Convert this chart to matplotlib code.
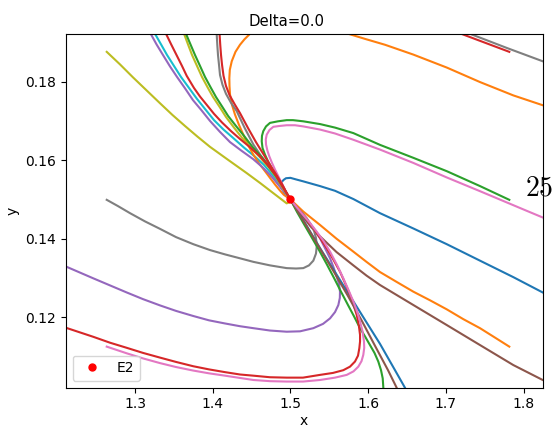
import matplotlib
matplotlib.use("Agg")
import matplotlib.pyplot as plt

# ---- equilibrium point ----
e2_x = [1.5]
e2_y = [0.15]

# ---- trajectories ----
blue_loop_x = [1.8405, 1.8247, 1.7869, 1.744, 1.7012, 1.6582, 1.6153, 1.581, 1.5574, 1.5381, 1.5166, 1.5072, 1.5, 1.4943, 1.4914, 1.4885, 1.4884, 1.4888, 1.4914, 1.4931, 1.4952, 1.5]
blue_loop_y = [0.1246, 0.1263, 0.1302, 0.1344, 0.1386, 0.1426, 0.1465, 0.1501, 0.1522, 0.1534, 0.1546, 0.1551, 0.1555, 0.1554, 0.1550, 0.1544, 0.1538, 0.1529, 0.1521, 0.1514, 0.1508, 0.15]

orange_low_x = [1.7817, 1.7633, 1.744, 1.7225, 1.7012, 1.6797, 1.6582, 1.6366, 1.6153, 1.5979, 1.581, 1.5593, 1.5381, 1.5166, 1.5]
orange_low_y = [0.1125, 0.1148, 0.1172, 0.1195, 0.1220, 0.1243, 0.1265, 0.1290, 0.1315, 0.1341, 0.1367, 0.1400, 0.1435, 0.1469, 0.15]

green_loop_x = [1.7817, 1.744, 1.7012, 1.6582, 1.6153, 1.581, 1.5574, 1.5381, 1.5166, 1.5033, 1.4952, 1.4840, 1.4737, 1.4686, 1.4651, 1.4634, 1.4631, 1.4641, 1.4673, 1.4712, 1.4759, 1.4802, 1.4844, 1.4885, 1.4931, 1.5]
green_loop_y = [0.1499, 0.1534, 0.1572, 0.1606, 0.1639, 0.1669, 0.1683, 0.1692, 0.1699, 0.1702, 0.1702, 0.1699, 0.1695, 0.1686, 0.1674, 0.1662, 0.1648, 0.1631, 0.1614, 0.1597, 0.1580, 0.1562, 0.1546, 0.1530, 0.1516, 0.15]

red_short_x = [1.7817, 1.7225, 1.7054]
red_short_y = [0.1876, 0.1920, 0.1934]

purple_low_x = [1.1906, 1.2112, 1.2463, 1.2678, 1.2893, 1.3103, 1.3322, 1.3528, 1.375, 1.3952, 1.4158, 1.4351, 1.4523, 1.4737, 1.4952, 1.5124, 1.5295, 1.5420, 1.551, 1.5574, 1.5617, 1.5636, 1.5638, 1.5625, 1.5596, 1.5555, 1.551, 1.5445, 1.5381, 1.5297, 1.521, 1.5156, 1.5102, 1.5046, 1.5]
purple_low_y = [0.1346, 0.1329, 0.1299, 0.1281, 0.1263, 0.1246, 0.1230, 0.1216, 0.1203, 0.1192, 0.1184, 0.1177, 0.1172, 0.1166, 0.1163, 0.1164, 0.1172, 0.1183, 0.1197, 0.1213, 0.1231, 0.1249, 0.1265, 0.1285, 0.1303, 0.1327, 0.1350, 0.1376, 0.1401, 0.1425, 0.1448, 0.1462, 0.1473, 0.1486, 0.15]

brown_right_x = [1.8405, 1.8247, 1.7869, 1.744, 1.7012, 1.6582, 1.6153, 1.5979, 1.581, 1.5593, 1.5381, 1.5265, 1.5166, 1.5072, 1.5]
brown_right_y = [0.1027, 0.1040, 0.1078, 0.1129, 0.1180, 0.1231, 0.1282, 0.1306, 0.1332, 0.1366, 0.1406, 0.1430, 0.1455, 0.1478, 0.15]

pink_loop_x = [1.8405, 1.8247, 1.8041, 1.744, 1.7012, 1.6582, 1.6153, 1.581, 1.5574, 1.5381, 1.5166, 1.5059, 1.4952, 1.4853, 1.478, 1.4731, 1.4695, 1.4683, 1.4686, 1.4703, 1.4728, 1.4763, 1.4802, 1.4847, 1.4888, 1.4924, 1.4952, 1.5]
pink_loop_y = [0.1443, 0.1454, 0.1471, 0.1521, 0.1556, 0.1593, 0.1627, 0.1652, 0.1668, 0.1678, 0.1686, 0.1689, 0.1689, 0.1687, 0.1685, 0.1677, 0.1665, 0.1653, 0.1640, 0.1625, 0.1610, 0.1593, 0.1576, 0.1558, 0.1542, 0.1527, 0.1512, 0.15]

gray_mid_x = [1.2636, 1.2781, 1.2936, 1.3129, 1.3322, 1.3528, 1.375, 1.3965, 1.4158, 1.4351, 1.4523, 1.4737, 1.4952, 1.5072, 1.5166, 1.5239, 1.5295, 1.5329, 1.5340, 1.5329, 1.5304, 1.5263, 1.521, 1.5149, 1.5081, 1.5]
gray_mid_y = [0.1499, 0.1483, 0.1465, 0.1444, 0.1425, 0.1404, 0.1386, 0.1371, 0.1360, 0.1350, 0.1341, 0.1332, 0.1325, 0.1324, 0.1325, 0.1332, 0.1344, 0.1362, 0.1383, 0.1402, 0.1420, 0.1436, 0.1452, 0.1466, 0.1479, 0.15]

olive_start_x = [1.2636, 1.2807, 1.2974, 1.3148, 1.3322, 1.3483, 1.3644, 1.3804, 1.3965, 1.4197, 1.4438, 1.4609, 1.4780, 1.4879, 1.4952, 1.4988, 1.5]
olive_start_y = [0.1876, 0.1844, 0.1811, 0.1778, 0.1745, 0.1715, 0.1687, 0.1660, 0.1634, 0.1601, 0.1567, 0.1542, 0.1516, 0.1501, 0.1490, 0.1493, 0.15]

cyan_top_x = [1.3129, 1.3257, 1.3335, 1.3412, 1.3502, 1.3592, 1.3695, 1.3798, 1.3907, 1.4017, 1.4139, 1.4261, 1.4403, 1.4544, 1.4660, 1.4776, 1.4885, 1.5]
cyan_top_y = [0.1970, 0.1922, 0.1895, 0.1868, 0.1840, 0.1812, 0.1784, 0.1756, 0.1729, 0.1702, 0.1678, 0.1657, 0.1632, 0.1609, 0.1588, 0.1561, 0.1532, 0.15]

blue_bottom_x = [1.6514, 1.6475, 1.6346, 1.6153, 1.5960, 1.5767, 1.5574, 1.5381, 1.5188, 1.5]
blue_bottom_y = [0.1002, 0.1020, 0.1065, 0.1132, 0.1193, 0.1254, 0.1315, 0.1376, 0.1440, 0.15]

orange_top_x = [1.4634, 1.4480, 1.4409, 1.4351, 1.4293, 1.4245, 1.4220, 1.4214, 1.4216, 1.4223, 1.4248, 1.4287, 1.4338, 1.4394, 1.4454, 1.4523, 1.4596, 1.4673, 1.4737, 1.4802, 1.4860, 1.4914, 1.5]
orange_top_y = [0.1952, 0.1922, 0.1908, 0.1894, 0.1876, 0.1852, 0.1830, 0.1809, 0.1789, 0.1767, 0.1741, 0.1716, 0.1690, 0.1665, 0.1639, 0.1614, 0.1592, 0.1572, 0.1555, 0.1538, 0.1524, 0.1512, 0.15]

orange_far_x = [1.5510, 1.5745, 1.5960, 1.6218, 1.6582, 1.7012, 1.7440, 1.7869, 1.8247, 1.8405]
orange_far_y = [0.1934, 0.1922, 0.1909, 0.1894, 0.1869, 0.1836, 0.1799, 0.1765, 0.1740, 0.1730]

green_bottom_x = [1.6198, 1.6196, 1.6188, 1.6166, 1.6131, 1.6082, 1.6024, 1.5960, 1.5896, 1.5819, 1.5741, 1.5651, 1.5561, 1.5465, 1.5368, 1.5272, 1.5175, 1.5085, 1.5]
green_bottom_y = [0.1002, 0.1020, 0.1044, 0.1065, 0.1087, 0.1109, 0.1129, 0.1151, 0.1172, 0.1202, 0.1231, 0.1265, 0.1300, 0.1336, 0.1371, 0.1404, 0.1437, 0.1468, 0.15]

red_low_x = [1.1906, 1.2112, 1.2463, 1.2678, 1.2893, 1.3103, 1.3322, 1.3528, 1.375, 1.3952, 1.4158, 1.4351, 1.4523, 1.4737, 1.4952, 1.5162, 1.5381, 1.5548, 1.5681, 1.5767, 1.5831, 1.5870, 1.5887, 1.5896, 1.5896, 1.5880, 1.5853, 1.5812, 1.5767, 1.5703, 1.5638, 1.5555, 1.5467, 1.5381, 1.5295, 1.5214, 1.5145, 1.5072, 1.5]
red_low_y = [0.1187, 0.1173, 0.1150, 0.1135, 0.1122, 0.1109, 0.1097, 0.1086, 0.1075, 0.1067, 0.1060, 0.1054, 0.1051, 0.1047, 0.1046, 0.1046, 0.1053, 0.1058, 0.1065, 0.1074, 0.1087, 0.1102, 0.1121, 0.1138, 0.1155, 0.1180, 0.1206, 0.1231, 0.1257, 0.1287, 0.1316, 0.1346, 0.1376, 0.1402, 0.1427, 0.1448, 0.1465, 0.1482, 0.15]

purple_top_x = [1.3064, 1.3202, 1.3277, 1.3360, 1.3450, 1.3541, 1.3644, 1.3746, 1.3856, 1.3965, 1.4094, 1.4223, 1.4364, 1.4519, 1.4647, 1.4763, 1.4879, 1.5]
purple_top_y = [0.1970, 0.1922, 0.1895, 0.1868, 0.1839, 0.1812, 0.1783, 0.1753, 0.1727, 0.1700, 0.1672, 0.1646, 0.1625, 0.1603, 0.1581, 0.1557, 0.1529, 0.15]

brown_bottom_x = [1.6391, 1.6368, 1.6256, 1.6089, 1.5921, 1.5741, 1.5561, 1.5368, 1.5175, 1.5]
brown_bottom_y = [0.1002, 0.1020, 0.1065, 0.1127, 0.1190, 0.1254, 0.1315, 0.1379, 0.1443, 0.15]

pink_low_x = [1.2636, 1.2893, 1.3103, 1.3322, 1.3528, 1.375, 1.3952, 1.4158, 1.4523, 1.4737, 1.4952, 1.5162, 1.5381, 1.5574, 1.5725, 1.5812, 1.5874, 1.5915, 1.5938, 1.5950, 1.5947, 1.5928, 1.5896, 1.5857, 1.5810, 1.5748, 1.5681, 1.5600, 1.5510, 1.5426, 1.5338, 1.5252, 1.5166, 1.5078, 1.5]
pink_low_y = [0.1125, 0.1108, 0.1095, 0.1083, 0.1073, 0.1064, 0.1057, 0.1051, 0.1040, 0.1037, 0.1036, 0.1036, 0.1040, 0.1046, 0.1053, 0.1062, 0.1074, 0.1088, 0.1104, 0.1122, 0.1138, 0.1164, 0.1189, 0.1215, 0.1240, 0.1269, 0.1299, 0.1333, 0.1367, 0.1394, 0.1418, 0.1440, 0.1460, 0.1481, 0.15]

gray_top_x = [1.4036, 1.4051, 1.4059, 1.4068, 1.4081, 1.4094, 1.4126, 1.4171, 1.4236, 1.4309, 1.4409, 1.4523, 1.4628, 1.4737, 1.4815, 1.4879, 1.4937, 1.5]
gray_top_y = [0.1970, 0.1922, 0.1894, 0.1868, 0.1843, 0.1817, 0.1792, 0.1769, 0.1746, 0.1725, 0.1683, 0.1640, 0.1609, 0.1583, 0.1560, 0.1538, 0.1520, 0.15]

gray_far_x = [1.7118, 1.7311, 1.7784, 1.8247, 1.8405]
gray_far_y = [0.1937, 0.1922, 0.1886, 0.1852, 0.1840]

olive_top_x = [1.3528, 1.3631, 1.3682, 1.3734, 1.3798, 1.3862, 1.3933, 1.4004, 1.4088, 1.4171, 1.4274, 1.4377, 1.4499, 1.4615, 1.4725, 1.4815, 1.4898, 1.5]
olive_top_y = [0.1970, 0.1922, 0.1895, 0.1868, 0.1840, 0.1812, 0.1786, 0.1761, 0.1736, 0.1710, 0.1683, 0.1657, 0.1630, 0.1606, 0.1581, 0.1557, 0.1530, 0.15]

green_top_x = [1.3566, 1.3656, 1.3714, 1.3772, 1.3837, 1.3901, 1.3972, 1.4042, 1.4120, 1.4197, 1.4300, 1.4403, 1.4519, 1.4634, 1.4737, 1.4828, 1.4911, 1.5]
green_top_y = [0.1970, 0.1922, 0.1895, 0.1868, 0.1840, 0.1812, 0.1786, 0.1761, 0.1737, 0.1713, 0.1687, 0.1662, 0.1632, 0.1607, 0.1580, 0.1556, 0.1530, 0.15]

red_top_x = [1.3270, 1.3399, 1.3463, 1.3534, 1.3605, 1.3665, 1.3759, 1.3837, 1.3923, 1.4017, 1.4120, 1.4236, 1.4351, 1.4474, 1.4596, 1.4699, 1.4802, 1.4898, 1.5]
red_top_y = [0.1970, 0.1922, 0.1896, 0.1868, 0.1840, 0.1815, 0.1784, 0.1762, 0.1741, 0.1718, 0.1696, 0.1674, 0.1654, 0.1634, 0.1612, 0.1590, 0.1564, 0.1533, 0.15]

red_gray_x = [1.4075, 1.4088, 1.4097, 1.4107, 1.4120, 1.4139, 1.4171, 1.4216, 1.4281, 1.4351, 1.4454, 1.4557, 1.4660, 1.4763, 1.4834, 1.4892, 1.4943, 1.5]
red_gray_y = [0.1970, 0.1922, 0.1894, 0.1868, 0.1843, 0.1815, 0.1789, 0.1766, 0.1743, 0.1720, 0.1682, 0.1646, 0.1613, 0.1580, 0.1558, 0.1539, 0.1520, 0.15]

curves = [
    (blue_loop_x, blue_loop_y, "tab:blue"),
    (orange_low_x, orange_low_y, "tab:orange"),
    (green_loop_x, green_loop_y, "tab:green"),
    (red_short_x, red_short_y, "tab:red"),
    (purple_low_x, purple_low_y, "tab:purple"),
    (brown_right_x, brown_right_y, "tab:brown"),
    (pink_loop_x, pink_loop_y, "tab:pink"),
    (gray_mid_x, gray_mid_y, "tab:gray"),
    (olive_start_x, olive_start_y, "tab:olive"),
    (cyan_top_x, cyan_top_y, "tab:cyan"),
    (blue_bottom_x, blue_bottom_y, "tab:blue"),
    (orange_top_x, orange_top_y, "tab:orange"),
    (orange_far_x, orange_far_y, "tab:orange"),
    (green_bottom_x, green_bottom_y, "tab:green"),
    (red_low_x, red_low_y, "tab:red"),
    (purple_top_x, purple_top_y, "tab:purple"),
    (brown_bottom_x, brown_bottom_y, "tab:brown"),
    (pink_low_x, pink_low_y, "tab:pink"),
    (gray_top_x, gray_top_y, "tab:gray"),
    (gray_far_x, gray_far_y, "tab:gray"),
    (olive_top_x, olive_top_y, "tab:olive"),
    (green_top_x, green_top_y, "tab:green"),
    (red_top_x, red_top_y, "tab:red"),
    (red_gray_x, red_gray_y, "tab:red"),
]

fig = plt.figure(figsize=(5.53, 4.28), dpi=100)
ax = fig.add_axes([0.1188, 0.0942, 0.9814 - 0.1188, 0.9206 - 0.0942])

for cx, cy, col in curves:
    ax.plot(cx, cy, color=col, lw=1.5, solid_joinstyle="round")

ax.plot(e2_x, e2_y, "o", color="red", ms=5, label="E2", zorder=5)

ax.set_xlim(1.2108, 1.8247)
ax.set_ylim(0.10204, 0.19215)
ax.set_xlabel("x", labelpad=2)
ax.set_ylabel("y")
ax.legend(loc="lower left")

fig.text(287 / 553, 1 - 25.7 / 428, "Delta=0.0", ha="center", va="baseline", fontsize=10.7)
ax.text(1.8019, 0.1509, r"$25$", fontsize=20, math_fontfamily="cm", ha="left", va="baseline")

fig.savefig("out.png", dpi=100)
